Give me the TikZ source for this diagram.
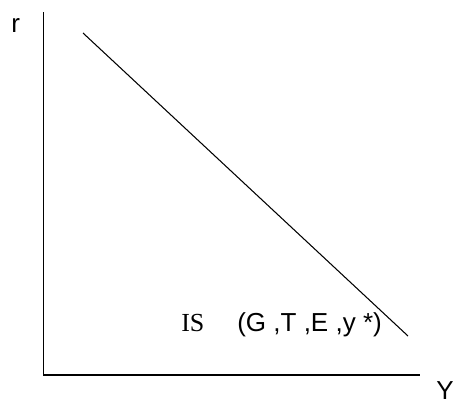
\documentclass[tikz,border=0pt]{standalone}
\usepackage{fontspec}
\setmainfont{Liberation Serif}
\setsansfont{Liberation Sans}
\begin{document}
\begin{tikzpicture}[x=.025cm,y=-.025cm,font=\fontsize{18.5}{22}\selectfont,
  axis/.style={line width=.95pt},
  schedule/.style={line width=.75pt},
  lbl/.style={anchor=base west,inner sep=0pt}]
\useasboundingbox (0,0) rectangle (454,401);
\coordinate (origin) at (43.5,375);
\coordinate (ytop) at (43.5,12);
\coordinate (xend) at (420,375);
\draw[axis] (ytop) -- (origin) -- (xend);
\coordinate (isstart) at (83,33);
\coordinate (isend) at (408,336);
\draw[schedule] (isstart) -- (isend);
\node[lbl,font=\sffamily\fontsize{18.5}{22}\selectfont] (rlabel) at (11,32) {r};
\node[lbl,font=\sffamily\fontsize{18.5}{22}\selectfont] (ylabel) at (436,399.5) {Y};
\node[lbl] (islabel) at (181,331) {IS};
\node[lbl,font=\sffamily\fontsize{18.5}{22}\selectfont] (isargs) at (237,331) {(G ,T ,E ,y *)};
\end{tikzpicture}
\end{document}
